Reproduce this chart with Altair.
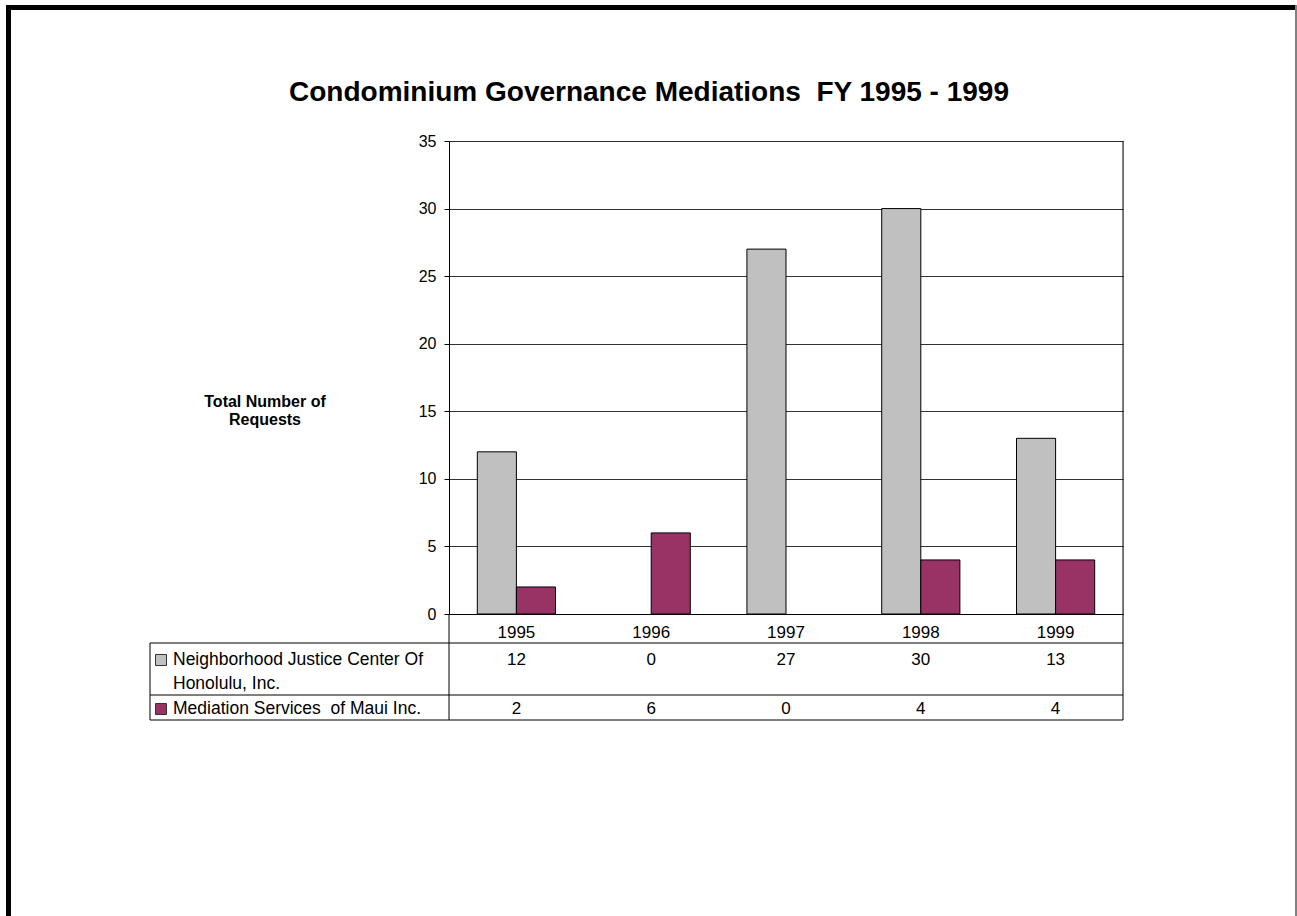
import altair as alt
import pandas as pd

years = ["1995", "1996", "1997", "1998", "1999"]
series_names = ["Neighborhood Justice Center Of Honolulu, Inc.", "Mediation Services\u00a0 of Maui Inc."]
njc_values = [12, 0, 27, 30, 13]
msm_values = [2, 6, 0, 4, 4]
series_colors = ["#C0C0C0", "#993366"]
y_ticks = [0, 5, 10, 15, 20, 25, 30, 35]
title_text = "Condominium Governance Mediations\u00a0 FY 1995 - 1999"
y_title = "Total Number of\nRequests"
row_label_1 = "Neighborhood Justice Center Of\nHonolulu, Inc."
row_label_2 = "Mediation Services\u00a0 of Maui Inc."

rows = []
for i, y in enumerate(years):
    rows.append({"year": y, "series": series_names[0], "value": njc_values[i]})
    rows.append({"year": y, "series": series_names[1], "value": msm_values[i]})
df = pd.DataFrame(rows)

FONT = "Liberation Sans"
W, H = 674, 473

xscale = alt.Scale(domain=years, paddingInner=0.42, paddingOuter=0.21)
color_scale = alt.Scale(domain=series_names, range=series_colors)

base = alt.Chart(df)

bars = base.transform_filter(alt.datum.value > 0).mark_bar(stroke="#000000", strokeWidth=1).encode(
    x=alt.X("year:N", scale=xscale, sort=years,
            axis=alt.Axis(title=None, ticks=False, labelAngle=0, labelFontSize=17,
                          labelPadding=10, domainColor="#000000", labelColor="#000000")),
    xOffset=alt.XOffset("series:N", sort=series_names,
                        scale=alt.Scale(domain=series_names, paddingInner=0, paddingOuter=0)),
    y=alt.Y("value:Q", scale=alt.Scale(domain=[0, 35], nice=False),
            axis=alt.Axis(title=None, values=y_ticks, grid=True, gridColor="#000000", gridOpacity=0.8,
                          domainColor="#000000", tickColor="#000000", tickSize=5,
                          labelFontSize=16, labelPadding=8, labelColor="#000000")),
    color=alt.Color("series:N", scale=color_scale, legend=None),
)

row1_vals = base.transform_filter(alt.datum.series == series_names[0]).mark_text(
    fontSize=17, font=FONT, color="#000000", baseline="middle").encode(
    x=alt.X("year:N", sort=years), y=alt.value(519), text="value:Q")
row2_vals = base.transform_filter(alt.datum.series == series_names[1]).mark_text(
    fontSize=17, font=FONT, color="#000000", baseline="middle").encode(
    x=alt.X("year:N", sort=years), y=alt.value(568), text="value:Q")

one = pd.DataFrame({"k": [0]})

def rule(x1, x2, y1, y2, color="#000000", w=1):
    return alt.Chart(one).mark_rule(color=color, strokeWidth=w).encode(
        x=alt.value(x1), x2=alt.value(x2), y=alt.value(y1), y2=alt.value(y2))

def label(text, x, y, size, bold=False, align="left", lh=None):
    props = dict(fontSize=size, font=FONT, color="#000000", align=align, baseline="middle", lineBreak="\n")
    if bold:
        props["fontWeight"] = "bold"
    if lh:
        props["lineHeight"] = lh
    return alt.Chart(pd.DataFrame({"t": [text]})).mark_text(**props).encode(
        x=alt.value(x), y=alt.value(y), text="t:N")

swatch1 = base.transform_filter(alt.datum.series == series_names[0]).transform_aggregate(
    n="count()", groupby=["series"]).mark_square(size=121, opacity=1, stroke="#333333", strokeWidth=1).encode(
    x=alt.value(-288), y=alt.value(519), color=alt.Color("series:N", scale=color_scale, legend=None))
swatch2 = base.transform_filter(alt.datum.series == series_names[1]).transform_aggregate(
    n="count()", groupby=["series"]).mark_square(size=121, opacity=1, stroke="#333333", strokeWidth=1).encode(
    x=alt.value(-288), y=alt.value(568), color=alt.Color("series:N", scale=color_scale, legend=None))

lines = [
    rule(674, 674, 0, 579),          # right frame of plot + table
    rule(0, 0, 473, 579),            # left divider of table
    rule(-299, 674, 502, 502),
    rule(-299, 674, 554, 554),
    rule(-299, 674, 579, 579),
    rule(-299, -299, 502, 579),
    rule(-440.5, -440.5, -136, 775, w=5),   # page frame left
    rule(-443, 848, -133.5, -133.5, w=5),   # page frame top
    rule(847, 847, -136, 775, color="#808080", w=2),  # page frame right
]

texts = [
    label(title_text, 200, -48, 28, bold=True, align="center"),
    label(y_title, -184, 261, 16, bold=True, align="center", lh=18),
    label(row_label_1, -276, 519, 17.5, lh=24),
    label(row_label_2, -276, 568, 17.5),
]

chart = alt.layer(bars, row1_vals, row2_vals, swatch1, swatch2, *lines, *texts).properties(
    width=W, height=H,
    padding={"left": 449, "top": 141, "right": 174, "bottom": 302},
    autosize=alt.AutoSizeParams(type="none"),
    background="#ffffff",
).configure_view(stroke=None).configure(font=FONT)

chart.save("out.html", embed_options={"renderer": "svg", "actions": False})
